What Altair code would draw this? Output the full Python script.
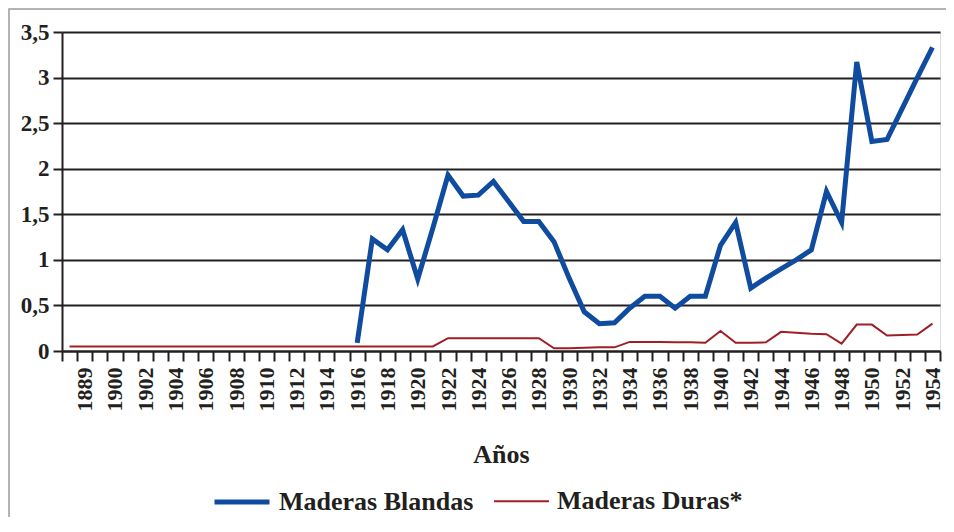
import altair as alt
import pandas as pd

years = ["1888", "1889", "1890",
         "1900", "1901", "1902", "1903", "1904", "1905", "1906", "1907", "1908", "1909",
         "1910", "1911", "1912", "1913", "1914", "1915", "1916", "1917", "1918", "1919",
         "1920", "1921", "1922", "1923", "1924", "1925", "1926", "1927", "1928", "1929",
         "1930", "1931", "1932", "1933", "1934", "1935", "1936", "1937", "1938", "1939",
         "1940", "1941", "1942", "1943", "1944", "1945", "1946", "1947", "1948", "1949",
         "1950", "1951", "1952", "1953", "1954"]

shown_labels = ["1889", "1900", "1902", "1904", "1906", "1908", "1910", "1912", "1914",
                "1916", "1918", "1920", "1922", "1924", "1926", "1928", "1930", "1932",
                "1934", "1936", "1938", "1940", "1942", "1944", "1946", "1948", "1950",
                "1952", "1954"]

# Maderas Blandas (from 1916 on)
blandas = [None, None, None,
           None, None, None, None, None, None, None, None, None, None,
           None, None, None, None, None, None, 0.09, 1.23, 1.11, 1.33,
           0.79, 1.35, 1.93, 1.70, 1.71, 1.86, 1.64, 1.42, 1.42, 1.20,
           0.80, 0.43, 0.30, 0.31, 0.47, 0.60, 0.60, 0.47, 0.60, 0.60,
           1.16, 1.41, 0.69, 0.80, 0.90, 1.00, 1.11, 1.75, 1.41, 3.17,
           2.30, 2.32, 2.66, 3.00, 3.33]

# Maderas Duras*
duras = [0.05, 0.05, 0.05,
         0.05, 0.05, 0.05, 0.05, 0.05, 0.05, 0.05, 0.05, 0.05, 0.05,
         0.05, 0.05, 0.05, 0.05, 0.05, 0.05, 0.05, 0.05, 0.05, 0.05,
         0.05, 0.05, 0.14, 0.14, 0.14, 0.14, 0.14, 0.14, 0.14, 0.03,
         0.03, 0.035, 0.04, 0.04, 0.10, 0.10, 0.10, 0.095, 0.095, 0.09,
         0.22, 0.09, 0.09, 0.095, 0.21, 0.20, 0.19, 0.185, 0.08, 0.29,
         0.29, 0.17, 0.175, 0.18, 0.30]

series_names = ["Maderas Blandas", "Maderas Duras*"]
series_colors = ["#0f4c9f", "#a01e26"]
series_widths = [5, 2]

rows = []
for name, vals in zip(series_names, [blandas, duras]):
    for y, v in zip(years, vals):
        if v is not None:
            rows.append({"year": y, "value": v, "serie": name})
df = pd.DataFrame(rows)

FONT = "Liberation Serif"
INK = "#231f20"
label_list = "[" + ",".join("'" + s + "'" for s in shown_labels) + "]"

legend_opts = dict(title=None, orient="none", legendX=150, legendY=440,
                   direction="horizontal", symbolType="stroke",
                   symbolSize=3025, labelFont=FONT, labelFontSize=26,
                   labelFontWeight="bold", labelColor=INK,
                   labelOffset=7, columnPadding=16, labelLimit=400)

lines = alt.Chart(df).mark_line(strokeJoin="miter", strokeCap="butt").encode(
    x=alt.X("year:O", sort=years,
            scale=alt.Scale(type="band", domain=years, paddingInner=0, paddingOuter=0),
            axis=alt.Axis(title="Años", labelAngle=-90, tickBand="extent",
                          labelExpr="indexof(" + label_list + ", datum.value) >= 0 ? datum.label : ''",
                          labelFont=FONT, labelFontSize=22, labelFontWeight="bold",
                          labelColor=INK, labelPadding=6, labelOverlap=False,
                          tickColor=INK, tickWidth=2, tickSize=10,
                          domainColor=INK, domainWidth=2,
                          titleFont=FONT, titleFontSize=26, titleFontWeight="bold",
                          titleColor=INK, titlePadding=30, grid=False)),
    y=alt.Y("value:Q",
            scale=alt.Scale(domain=[0, 3.5], nice=False),
            axis=alt.Axis(title=None, values=[0, 0.5, 1, 1.5, 2, 2.5, 3, 3.5],
                          labelExpr="replace(toString(datum.value), '.', ',')",
                          labelFont=FONT, labelFontSize=23, labelFontWeight="bold",
                          labelColor=INK, labelPadding=4,
                          tickColor=INK, tickWidth=2, tickSize=9,
                          domainColor=INK, domainWidth=2,
                          grid=True, gridColor=INK, gridWidth=2)),
    color=alt.Color("serie:N", scale=alt.Scale(domain=series_names, range=series_colors),
                    legend=alt.Legend(**legend_opts)),
    strokeWidth=alt.StrokeWidth("serie:N", scale=alt.Scale(domain=series_names, range=series_widths),
                                legend=alt.Legend(**legend_opts)),
    detail="serie:N",
)

one = pd.DataFrame({"f": [0]})
frame = alt.Chart(one).mark_rect(filled=False, stroke="#9a9a9a", strokeWidth=1.5).encode(
    x=alt.value(-53), x2=alt.value(1100), y=alt.value(-23), y2=alt.value(1100)
)

chart = alt.layer(frame, lines).properties(
    width=878, height=319,
    autosize=alt.AutoSizeParams(type="none"),
    padding={"left": 54, "top": 24, "right": 6, "bottom": 166},
).configure_view(strokeWidth=0).configure(background="white")

chart.save("out.html", embed_options={"renderer": "svg", "actions": False})
